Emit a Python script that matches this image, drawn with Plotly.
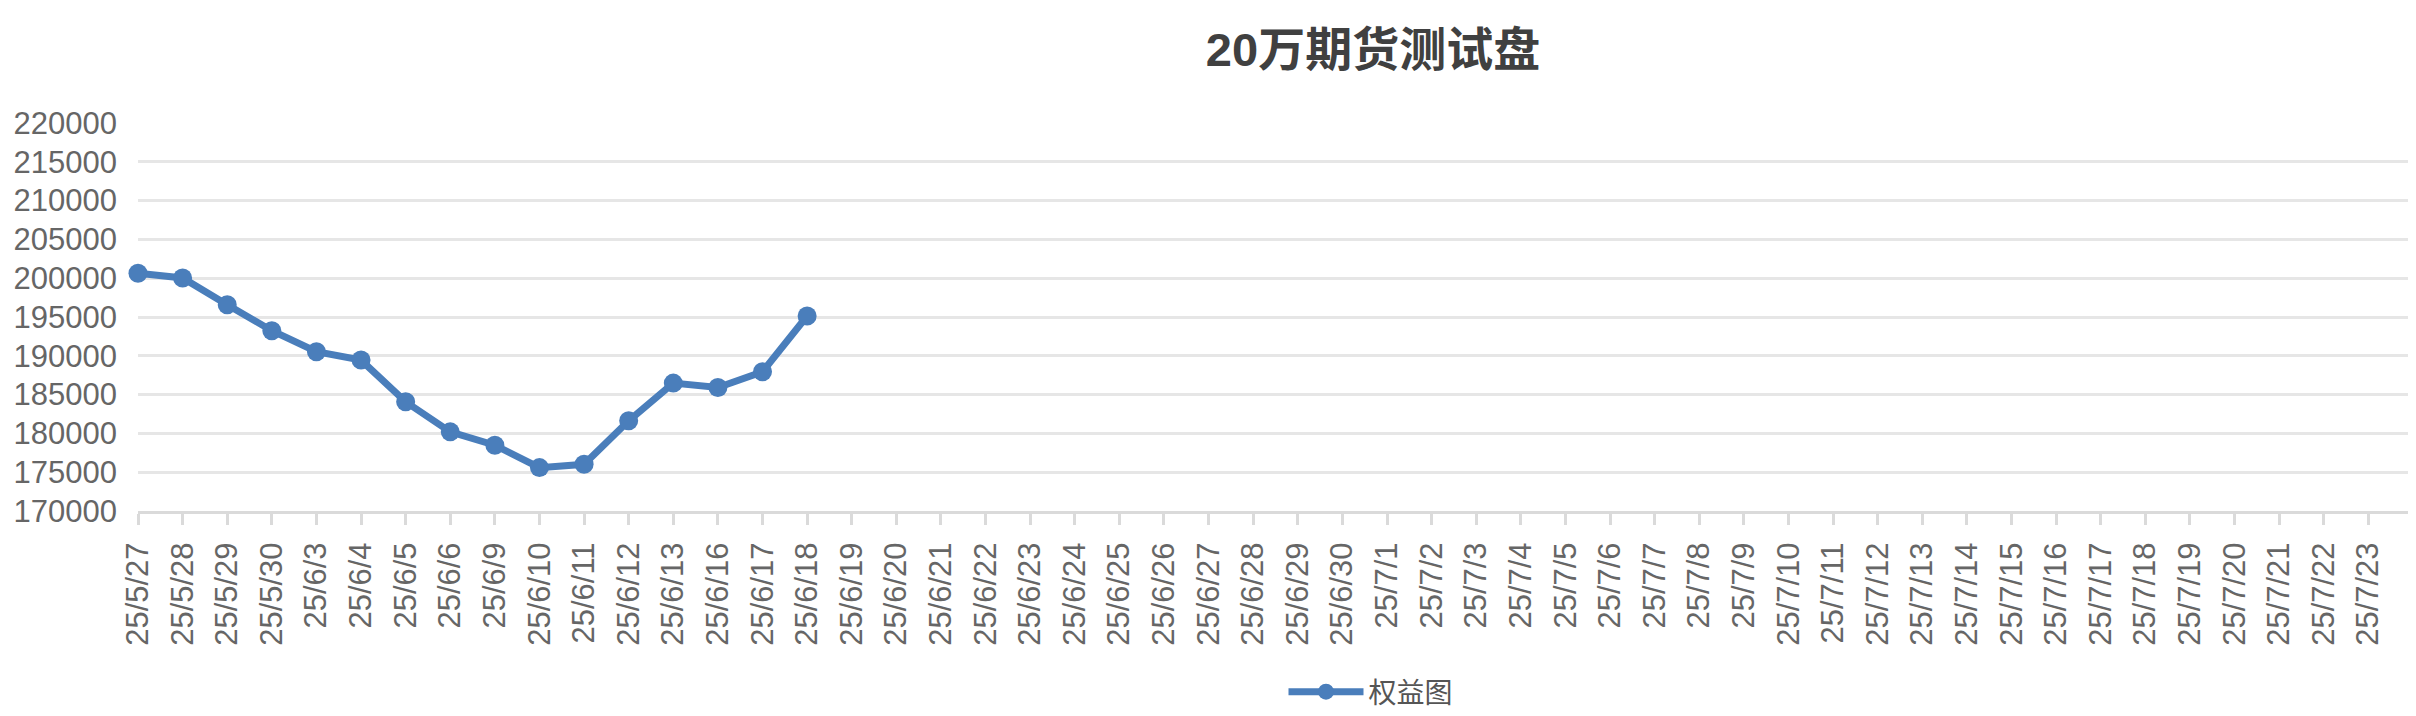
import plotly.graph_objects as go

# 日期（最后一个空标签只用于末尾刻度）
dates = (
    ["25/5/27", "25/5/28", "25/5/29", "25/5/30",
     "25/6/3", "25/6/4", "25/6/5", "25/6/6",
     "25/6/9", "25/6/10", "25/6/11", "25/6/12", "25/6/13"]
    + ["25/6/%d" % d for d in range(16, 31)]
    + ["25/7/%d" % d for d in range(1, 24)]
)
tick_labels = dates + [""]

# 权益值
equity = [200640, 200030, 196590, 193240, 190520, 189450, 184070, 180200,
          178480, 175590, 176020, 181620, 186480, 185920, 187940, 195130]

y_ticks = list(range(170000, 220001, 5000))

blue = "#4a7ebb"
grey = "#dadada"

# 页面 body 有 8px 边距
W, H = 2408, 708

fig = go.Figure()
fig.add_trace(go.Scatter(
    x=list(range(len(equity))),
    y=equity,
    mode="lines+markers",
    name="权益图",
    line=dict(color=blue, width=7),
    marker=dict(color=blue, size=19),
    cliponaxis=False,
))

fig.update_layout(
    width=W,
    height=H,
    paper_bgcolor="white",
    plot_bgcolor="white",
    margin=dict(l=130, r=3, t=115, b=205),
    font=dict(family="Liberation Sans, Noto Sans CJK SC, sans-serif", color="#666666", size=30),
    title=dict(
        text="<b>20万期货测试盘</b>",
        x=1365 / W, xref="container", xanchor="center",
        y=1 - 42 / H, yref="container", yanchor="middle",
        font=dict(size=47, color="#404040",
                  family="Liberation Sans, Noto Sans CJK SC, sans-serif"),
    ),
    showlegend=True,
    legend=dict(
        orientation="h",
        x=1363 / W, xref="container", xanchor="center",
        y=1 - 684 / H, yref="container", yanchor="middle",
        font=dict(size=28, color="#555555"),
        itemwidth=75,
    ),
    xaxis=dict(
        range=[0, len(dates)],
        tickmode="array",
        tickvals=list(range(len(tick_labels))),
        ticktext=tick_labels,
        tickangle=-90,
        ticks="outside",
        ticklen=11,
        tickwidth=3,
        tickcolor=grey,
        showgrid=False,
        showline=True,
        linecolor=grey,
        linewidth=3,
        zeroline=False,
        ticklabelstandoff=5,
        tickfont=dict(size=31, color="#666666"),
    ),
    xaxis2=dict(
        overlaying="x",
        anchor="y",
        side="bottom",
        range=[0, len(dates)],
        tickmode="array",
        tickvals=list(range(len(tick_labels))),
        showticklabels=False,
        ticks="inside",
        ticklen=12,
        tickwidth=3,
        tickcolor=grey,
        showgrid=False,
        showline=False,
        zeroline=False,
    ),
    yaxis=dict(
        range=[170000, 220000],
        tickmode="array",
        tickvals=y_ticks,
        ticktext=[str(v) for v in y_ticks],
        showgrid=True,
        gridcolor="#e6e6e6",
        gridwidth=2.5,
        zeroline=False,
        ticks="",
        ticklabelstandoff=20,
        tickfont=dict(size=31, color="#666666"),
    ),
)

fig.write_html("out.html")
